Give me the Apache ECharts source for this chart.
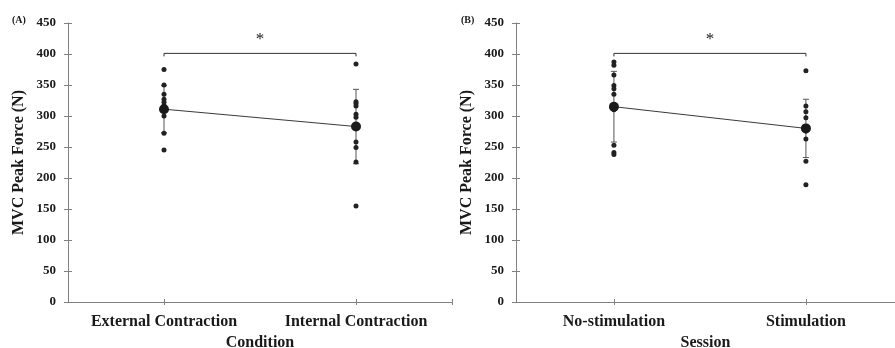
<!DOCTYPE html>
<html><head><meta charset="utf-8">
<script src="https://cdn.jsdelivr.net/npm/echarts@6/dist/echarts.min.js"></script>
<style>html,body{margin:0;padding:0;background:#fff}#c{width:895px;height:348px}</style>
</head><body><div id="c"></div>
<script>
// ---- data ----
var catsA = ['External Contraction', 'Internal Contraction'];
var catsB = ['No-stimulation', 'Stimulation'];
var yTicks = [0, 50, 100, 150, 200, 250, 300, 350, 400, 450];
var extData = [375, 350, 335, 327, 322, 317, 312, 300, 272, 245];
var intData = [384, 323, 320, 316, 303, 298, 258, 249, 226, 155];
var noStimData = [387, 382, 366, 349, 344, 335, 310, 253, 241, 238];
var stimData = [373, 316, 307, 297, 282, 276, 263, 227, 189];
var meansA = [311, 283];
var sdA = [38, 60];
var meansB = [315, 280];
var sdB = [57, 47];
var bracketA = 401;
var bracketB = 401;

var FONT = '"Liberation Serif", "DejaVu Serif", serif';
var TXT = '#1a1a1a';
var AX = '#808080';
var DOT = '#222222';

function pts(groups) {
  var out = [];
  groups.forEach(function (g, i) { g.forEach(function (v) { out.push([i, v]); }); });
  return out;
}
function meanPts(means) {
  return means.map(function (m, i) { return [i, m]; });
}
function errData(means, sds) {
  return means.map(function (m, i) { return [i, m, sds[i]]; });
}
function errItem(params, api) {
  var i = api.value(0), m = api.value(1), s = api.value(2);
  var hi = api.coord([i, m + s]), lo = api.coord([i, m - s]);
  var w = 3;
  return { type: 'group', children: [
    { type: 'line', shape: { x1: hi[0], y1: hi[1], x2: lo[0], y2: lo[1] }, style: { stroke: '#555', lineWidth: 1 } },
    { type: 'line', shape: { x1: hi[0] - w, y1: hi[1], x2: hi[0] + w, y2: hi[1] }, style: { stroke: '#555', lineWidth: 1 } },
    { type: 'line', shape: { x1: lo[0] - w, y1: lo[1], x2: lo[0] + w, y2: lo[1] }, style: { stroke: '#555', lineWidth: 1 } }
  ]};
}
function bracketItem(params, api) {
  var v = api.value(0);
  var p0 = api.coord([0, v]), p1 = api.coord([1, v]);
  return { type: 'group', children: [
    { type: 'polyline', shape: { points: [[p0[0], p0[1] + 3], [p0[0], p0[1]], [p1[0], p1[1]], [p1[0], p1[1] + 3]] },
      style: { stroke: '#333', lineWidth: 1, fill: null } },
    { type: 'text', style: { text: '*', x: (p0[0] + p1[0]) / 2, y: p0[1] - 14, align: 'center', verticalAlign: 'middle',
      font: '17px ' + FONT, fill: TXT } }
  ]};
}

function makeAxes(gi, cats, xName, xmin, xmax, tickVals) {
  var xMain = {
    type: 'value', gridIndex: gi, min: xmin, max: xmax,
    name: xName, nameLocation: 'middle', nameGap: 31,
    nameTextStyle: { fontFamily: FONT, fontWeight: 'bold', fontSize: 16, color: TXT },
    axisLine: { show: true, onZero: false, lineStyle: { color: AX, width: 1 } },
    axisTick: { show: true, length: 3, customValues: tickVals, lineStyle: { color: AX } },
    axisLabel: { fontFamily: FONT, fontWeight: 'bold', fontSize: 16, color: TXT, margin: 12,
      customValues: [0, 1], formatter: function (v) { return cats[Math.round(v)] || ''; } },
    splitLine: { show: false }
  };
  var xIn = {
    type: 'value', gridIndex: gi, min: xmin, max: xmax, position: 'bottom',
    axisLine: { show: false, onZero: false },
    axisTick: { show: true, inside: true, length: 3, customValues: tickVals, lineStyle: { color: AX } },
    axisLabel: { show: false }, splitLine: { show: false }
  };
  var yMain = {
    type: 'value', gridIndex: gi, min: yTicks[0], max: yTicks[yTicks.length - 1], interval: yTicks[1] - yTicks[0],
    position: 'left',
    name: 'MVC Peak Force (N)', nameLocation: 'middle', nameGap: 41,
    nameTextStyle: { fontFamily: FONT, fontWeight: 'bold', fontSize: 16, color: TXT },
    axisLine: { show: true, onZero: false, lineStyle: { color: AX, width: 1 } },
    axisTick: { show: true, length: 4, lineStyle: { color: AX } },
    axisLabel: { fontFamily: FONT, fontWeight: 'bold', fontSize: 13, color: TXT, margin: 12 },
    splitLine: { show: false }
  };
  var yIn = {
    type: 'value', gridIndex: gi, min: yTicks[0], max: yTicks[yTicks.length - 1], interval: yTicks[1] - yTicks[0],
    position: 'left',
    axisLine: { show: false, onZero: false },
    axisTick: { show: true, inside: true, length: 4, lineStyle: { color: AX } },
    axisLabel: { show: false }, splitLine: { show: false }
  };
  return { x: [xMain, xIn], y: [yMain, yIn] };
}

var aA = makeAxes(0, catsA, 'Condition', -0.5, 1.5, [0, 1, 1.5]);
var aB = makeAxes(1, catsB, 'Session', -0.51, 1.464, [0, 1]);

function panelSeries(xi, yi, groups, means, sds, bracket) {
  return [
    { type: 'custom', xAxisIndex: xi, yAxisIndex: yi, renderItem: errItem, data: errData(means, sds), z: 2, silent: true },
    { type: 'scatter', xAxisIndex: xi, yAxisIndex: yi, data: pts(groups), symbolSize: 5,
      itemStyle: { color: DOT, opacity: 1 }, z: 3, silent: true },
    { type: 'line', xAxisIndex: xi, yAxisIndex: yi, data: meanPts(means), symbol: 'circle', symbolSize: 10,
      lineStyle: { color: '#3a3a3a', width: 1 }, itemStyle: { color: '#1a1a1a' }, z: 4, silent: true },
    { type: 'custom', xAxisIndex: xi, yAxisIndex: yi, renderItem: bracketItem, data: [[bracket]], z: 5, silent: true }
  ];
}

var option = {
  animation: false,
  backgroundColor: '#fff',
  title: [
    { text: '(A)', left: 12, top: 15, padding: 0, textStyle: { fontFamily: FONT, fontWeight: 'bold', fontSize: 10, color: TXT } },
    { text: '(B)', left: 461, top: 15, padding: 0, textStyle: { fontFamily: FONT, fontWeight: 'bold', fontSize: 10, color: TXT } }
  ],
  grid: [
    { left: 68, top: 23, width: 384, height: 279, outerBoundsMode: 'none', containLabel: false },
    { left: 516, top: 23, right: 0, height: 279, outerBoundsMode: 'none', containLabel: false }
  ],
  xAxis: [aA.x[0], aA.x[1], aB.x[0], aB.x[1]],
  yAxis: [aA.y[0], aA.y[1], aB.y[0], aB.y[1]],
  series: [].concat(
    panelSeries(0, 0, [extData, intData], meansA, sdA, bracketA),
    panelSeries(2, 2, [noStimData, stimData], meansB, sdB, bracketB)
  )
};
var chart = echarts.init(document.getElementById('c'), null, { renderer: 'canvas' });
chart.setOption(option);
</script></body></html>
